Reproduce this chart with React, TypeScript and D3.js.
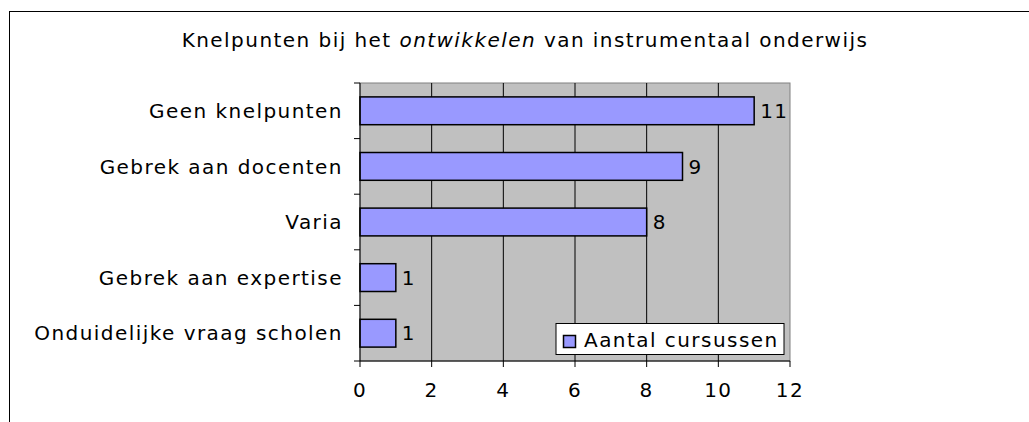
import React from "react";
import * as d3 from "d3";

const categories = [
  "Geen knelpunten",
  "Gebrek aan docenten",
  "Varia",
  "Gebrek aan expertise",
  "Onduidelijke vraag scholen",
];
const values = [11, 9, 8, 1, 1];
const xTicks = [0, 2, 4, 6, 8, 10, 12];
const seriesName = "Aantal cursussen";

const W = 1029;
const H = 422;
const plot = { left: 360, right: 790, top: 83, bottom: 361 };
const FONT = "'DejaVu Sans', Verdana, sans-serif";
const FS = 20;
const LS = 1.45;

export default function App() {
  const x = d3.scaleLinear().domain([0, 12]).range([plot.left, plot.right]);
  const y = d3
    .scaleBand<string>()
    .domain(categories)
    .range([plot.top, plot.bottom])
    .paddingInner(0.5)
    .paddingOuter(0.25);
  const band = d3.scaleBand<string>().domain(categories).range([plot.top, plot.bottom]);
  const boundaries = d3.range(categories.length + 1).map(
    (i) => plot.top + i * band.step()
  );

  return (
    <svg
      width={W}
      height={H}
      style={{ position: "absolute", left: 0, top: 0, background: "#fff" }}
      fontFamily={FONT}
    >
      <rect x={9.5} y={11.5} width={1040} height={440} fill="#fff" stroke="#000" />
      <text
        x={525}
        y={40}
        dy="0.36em"
        textAnchor="middle"
        fontSize={FS}
        letterSpacing={LS}
        fill="#000"
      >
        Knelpunten bij het <tspan fontStyle="italic">ontwikkelen</tspan> van instrumentaal onderwijs
      </text>

      <rect
        x={plot.left}
        y={plot.top}
        width={plot.right - plot.left}
        height={plot.bottom - plot.top}
        fill="#C0C0C0"
        stroke="#808080"
      />
      {xTicks.slice(1, -1).map((t) => (
        <line key={t} x1={x(t)} x2={x(t)} y1={plot.top} y2={plot.bottom} stroke="#000" />
      ))}

      {categories.map((c, i) => (
        <g key={c}>
          <rect
            x={x(0)}
            y={y(c)!}
            width={x(values[i]) - x(0)}
            height={y.bandwidth()}
            fill="#9999FF"
            stroke="#000"
            strokeWidth={1.5}
          />
          <text
            x={x(values[i]) + 6}
            y={y(c)! + y.bandwidth() / 2}
            dy="0.36em"
            fontSize={FS}
            letterSpacing={LS}
          >
            {values[i]}
          </text>
          <text
            x={343}
            y={band(c)! + band.bandwidth() / 2}
            dy="0.36em"
            textAnchor="end"
            fontSize={FS}
            letterSpacing={LS}
          >
            {c}
          </text>
        </g>
      ))}

      <line x1={plot.left} x2={plot.left} y1={plot.top} y2={plot.bottom} stroke="#000" />
      {boundaries.map((b, i) => (
        <line key={i} x1={plot.left - 6} x2={plot.left} y1={b} y2={b} stroke="#000" />
      ))}
      <line x1={plot.left} x2={plot.right} y1={plot.bottom} y2={plot.bottom} stroke="#000" />
      {xTicks.map((t) => (
        <g key={t}>
          <line x1={x(t)} x2={x(t)} y1={plot.bottom} y2={plot.bottom + 6} stroke="#000" />
          <text
            x={x(t)}
            y={390}
            dy="0.36em"
            textAnchor="middle"
            fontSize={FS}
            letterSpacing={LS}
          >
            {t}
          </text>
        </g>
      ))}

      <g>
        <rect x={556} y={323.5} width={228} height={31} fill="#fff" stroke="#000" />
        <rect x={563.5} y={335.5} width={12} height={12} fill="#9999FF" stroke="#000" strokeWidth={1.5} />
        <text x={584} y={340} dy="0.36em" fontSize={FS} letterSpacing={LS}>
          {seriesName}
        </text>
      </g>
    </svg>
  );
}
